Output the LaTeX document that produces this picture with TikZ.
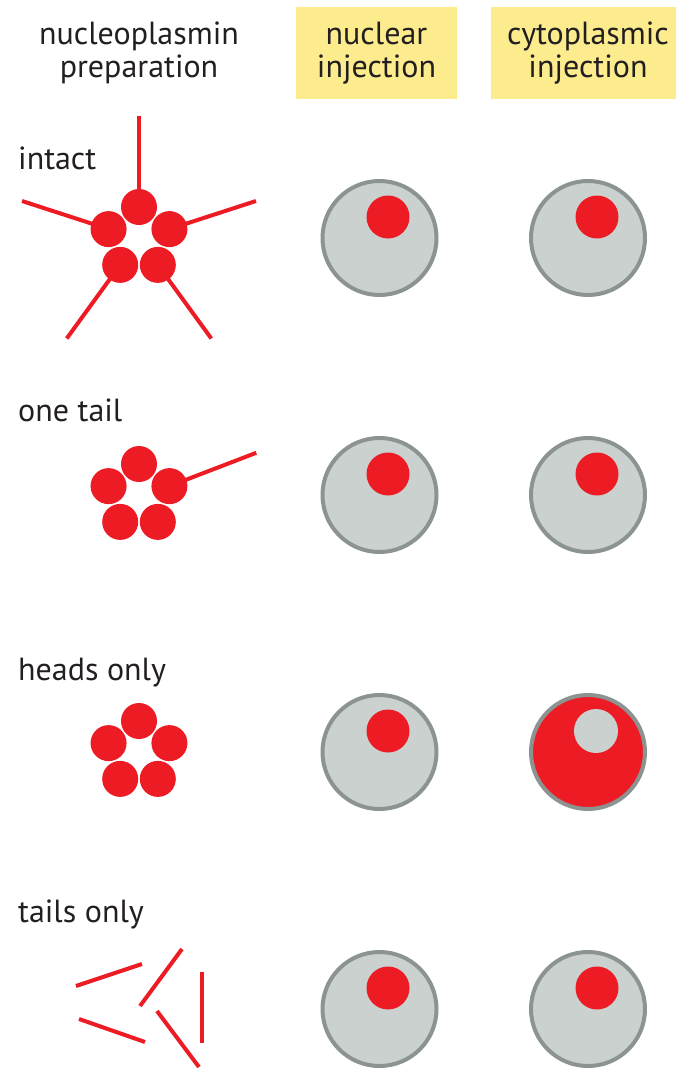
\documentclass[tikz,border=0pt]{standalone}
\usepackage{fontspec}
\setmainfont{PT Sans}
\usetikzlibrary{calc}
\definecolor{npred}{RGB}{237,28,36}
\definecolor{cellgrey}{RGB}{202,209,207}
\definecolor{rimgrey}{RGB}{140,148,146}
\definecolor{hdryellow}{RGB}{252,236,142}
\definecolor{inkblack}{RGB}{35,31,32}
\tikzset{
    tail/.style={line width=4pt, draw=npred},      % tail of a subunit
    head/.style={fill=npred},                      % head of a subunit
    cellbody/.style={fill=cellgrey, draw=rimgrey, line width=4pt},
    nucleus/.style={fill=npred},
    rowlabel/.style={anchor=base west, inner sep=0pt, text=inkblack,
        font=\fontsize{32}{33}\selectfont},
    colhead/.style={align=center, inner sep=0pt, text=inkblack,
        font=\fontsize{32}{33}\selectfont}
}

\begin{document}
\begin{tikzpicture}[x=1pt, y=-1pt]
    \clip (0,0) rectangle (676,1068);

    % =========================================================================
    % COLUMN HEADERS
    % =========================================================================
    \node[colhead] (prephead) at (139,53) {nucleoplasmin\\preparation};
    \node[colhead, fill=hdryellow, minimum width=161pt, minimum height=92pt]
        (nuchead) at (376.5,53) {nuclear\\injection};
    \node[colhead, fill=hdryellow, minimum width=194pt, minimum height=92pt]
        (cytohead) at (588,53) {cytoplasmic\\injection};

    % =========================================================================
    % ROW 1: intact pentamer
    % =========================================================================
    \begin{scope}[shift={(0,238)}]
        \node[rowlabel] (lblintact) at (18,-69) {intact};
        % five tails, then five heads on top
        \foreach \a in {270,198,126,54,342}
            \draw[tail] ($(139,1)+(\a:32)$) -- ++(\a:91);
        \foreach \a in {270,198,126,54,342}
            \fill[head] ($(139,1)+(\a:32)$) circle (18);

        % injected cells
        \draw[cellbody] (379.5,0) circle (57);
        \fill[nucleus] (388,-21) circle (21.5);
        \draw[cellbody] (588,0) circle (57);
        \fill[nucleus] (597,-21) circle (21.5);
    \end{scope}

    % =========================================================================
    % ROW 2: one tail
    % =========================================================================
    \begin{scope}[shift={(0,495)}]
        \node[rowlabel] (lblonetail) at (18,-74) {one tail};
        \draw[tail] ($(139,1)+(342:32)$) -- ++(339:93);
        \foreach \a in {270,198,126,54,342}
            \fill[head] ($(139,1)+(\a:32)$) circle (18);

        \draw[cellbody] (379.5,0) circle (57);
        \fill[nucleus] (388,-21) circle (21.5);
        \draw[cellbody] (588,0) circle (57);
        \fill[nucleus] (597,-21) circle (21.5);
    \end{scope}

    % =========================================================================
    % ROW 3: heads only (cytoplasm stays red)
    % =========================================================================
    \begin{scope}[shift={(0,752)}]
        \node[rowlabel] (lblheads) at (18,-72) {heads only};
        \foreach \a in {270,198,126,54,342}
            \fill[head] ($(139,1)+(\a:32)$) circle (18);

        \draw[cellbody] (379.5,0) circle (57);
        \fill[nucleus] (388,-21) circle (21.5);
        \draw[cellbody, fill=npred] (588,0) circle (57);
        \fill[cellgrey] (596,-21) circle (22);
    \end{scope}

    % =========================================================================
    % ROW 4: tails only
    % =========================================================================
    \begin{scope}[shift={(0,1009)}]
        \node[rowlabel] (lbltails) at (18,-87) {tails only};
        \draw[tail] (76,-23) -- (142,-45);
        \draw[tail] (140,-3) -- (182,-60);
        \draw[tail] (202,-37) -- (202,34);
        \draw[tail] (79,10) -- (145,33);
        \draw[tail] (157,2) -- (199,58);

        \draw[cellbody] (379.5,0) circle (57);
        \fill[nucleus] (388,-21) circle (21.5);
        \draw[cellbody] (588,0) circle (57);
        \fill[nucleus] (597,-21) circle (21.5);
    \end{scope}
\end{tikzpicture}
\end{document}
